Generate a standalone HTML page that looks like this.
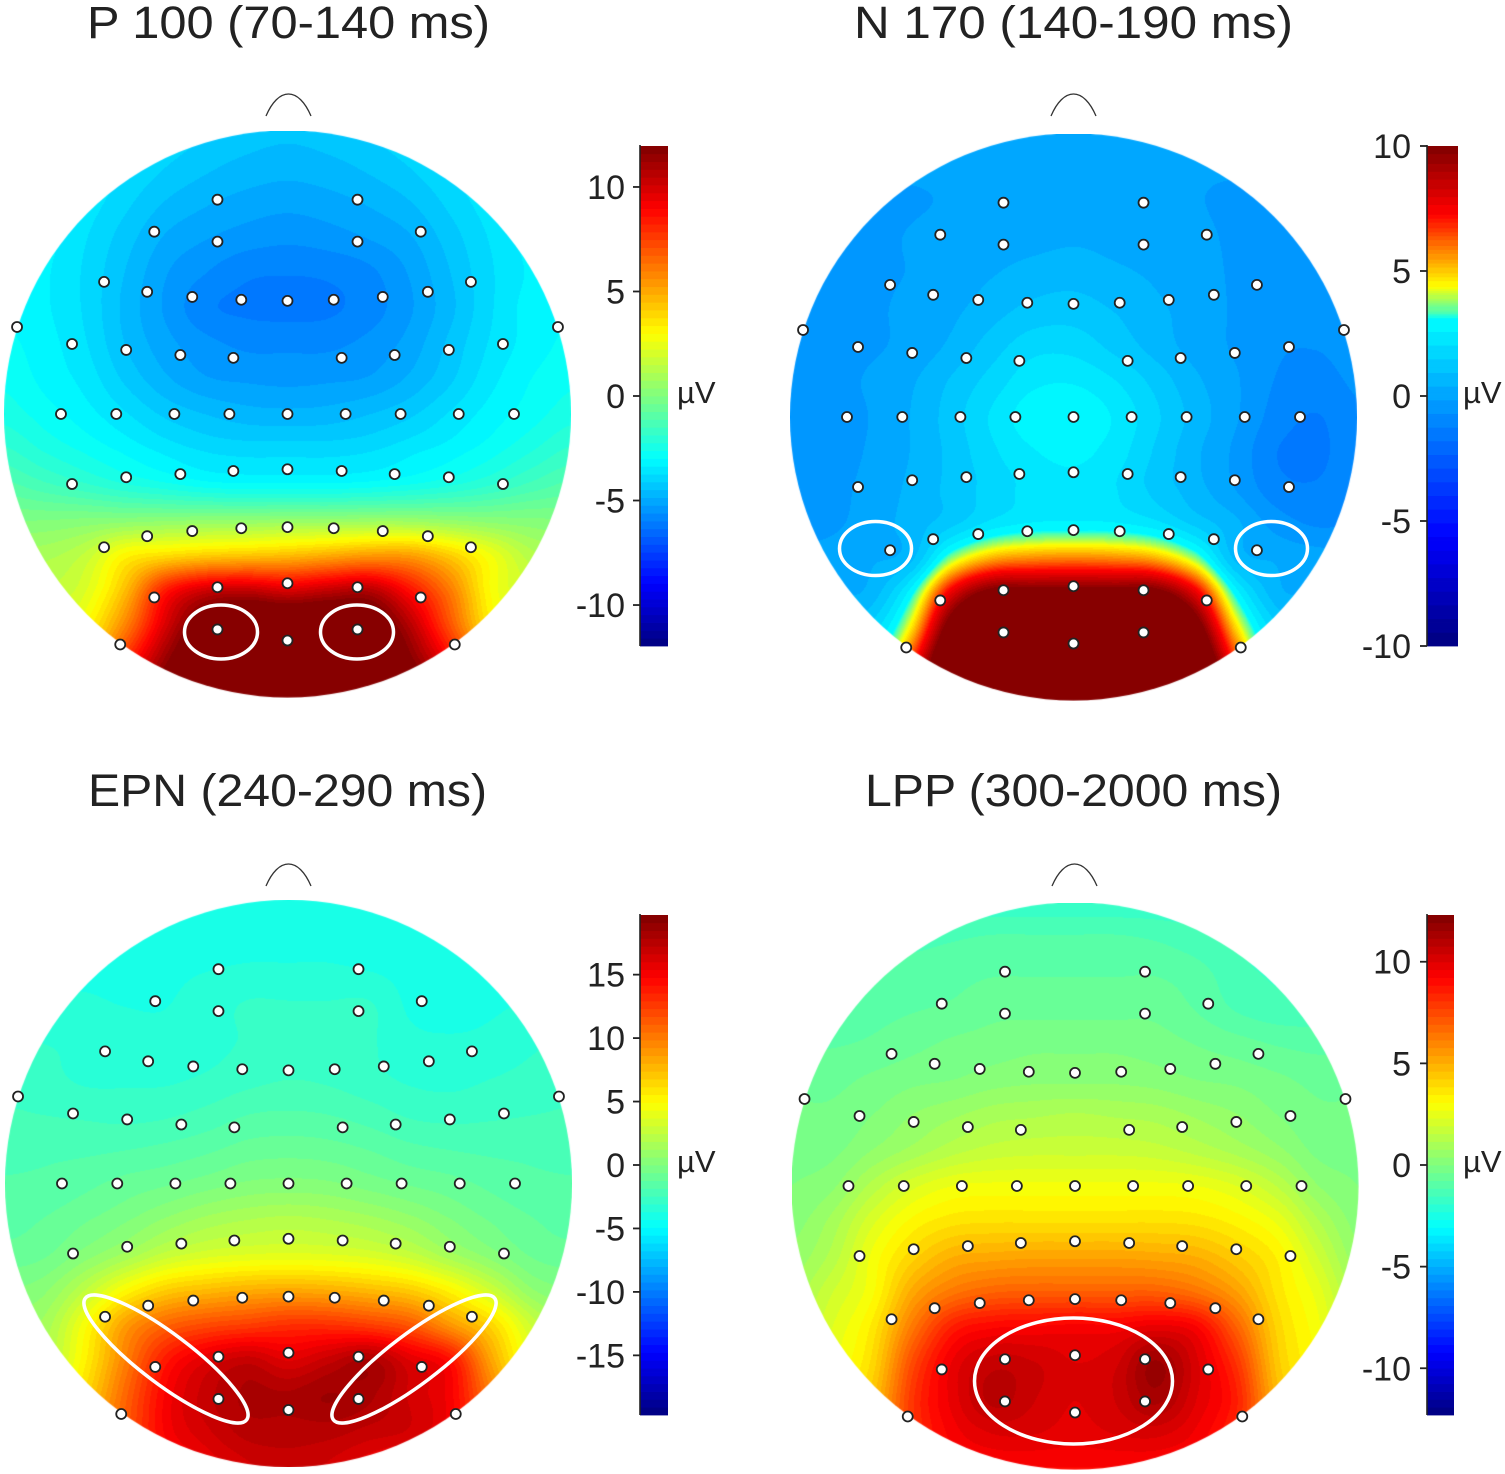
<!DOCTYPE html>
<html lang="en">
<head>
<meta charset="utf-8">
<title>ERP topographies</title>
<style>
html,body{margin:0;padding:0;background:#fff;}
#figure{position:relative;width:1505px;height:1474px;overflow:hidden;background:#fff;font-family:"Liberation Sans",Arial,sans-serif;}
canvas{position:absolute;display:block;}
#overlay{position:absolute;left:0;top:0;}
.title{font-size:45px;fill:#222;text-anchor:middle;}
.nose{fill:none;stroke:#333;stroke-width:1.3;}
.roi{fill:none;stroke:#fff;stroke-width:3.5;}
</style>
</head>
<body>
<div id="figure">
<canvas id="map0" width="567" height="567" style="left:4px;top:131px"></canvas>
<canvas id="map1" width="567" height="567" style="left:790px;top:134px"></canvas>
<canvas id="map2" width="567" height="567" style="left:5px;top:900px"></canvas>
<canvas id="map3" width="567" height="567" style="left:792px;top:903px"></canvas>
<svg id="overlay" width="1505" height="1474" viewBox="0 0 1505 1474" xmlns="http://www.w3.org/2000/svg">
  <text class="title" x="288.5" y="38" textLength="403" lengthAdjust="spacingAndGlyphs">P 100 (70-140 ms)</text>
  <text class="title" x="1073.5" y="38" textLength="439" lengthAdjust="spacingAndGlyphs">N 170 (140-190 ms)</text>
  <text class="title" x="287.5" y="806" textLength="399" lengthAdjust="spacingAndGlyphs">EPN (240-290 ms)</text>
  <text class="title" x="1073.5" y="806" textLength="417" lengthAdjust="spacingAndGlyphs">LPP (300-2000 ms)</text>

  <path class="nose" d="M266,116 C272,102 280,94 288.5,94 C297,94 305,102 311,116"/>
  <path class="nose" d="M1051,116 C1057,102 1065,94 1073.5,94 C1082,94 1090,102 1096,116"/>
  <path class="nose" d="M266,886 C272,872 280,864 288.5,864 C297,864 305,872 311,886"/>
  <path class="nose" d="M1052,886 C1058,872 1066,864 1074.5,864 C1083,864 1091,872 1097,886"/>

  <g id="electrodes"></g>
  <g id="colorbars"></g>

  <ellipse class="roi" cx="221" cy="632" rx="36.5" ry="27"/>
  <ellipse class="roi" cx="357" cy="632" rx="36.5" ry="27"/>
  <ellipse class="roi" cx="875.5" cy="548.5" rx="36" ry="27"/>
  <ellipse class="roi" cx="1271.5" cy="548.5" rx="36" ry="27"/>
  <ellipse class="roi" cx="166" cy="1359" rx="101" ry="25" transform="rotate(37 166 1359)"/>
  <ellipse class="roi" cx="414" cy="1359" rx="101" ry="25" transform="rotate(-37 414 1359)"/>
  <ellipse class="roi" cx="1073.5" cy="1381" rx="99" ry="63"/>
</svg>
</div>
<script>
/* Scalp potentials in microvolts: rows run nose to occiput, columns left to right. */
const p100Values = [
[-3,-3,-3.2,-3.5,-3.8,-4.1,-4.3,-4.4,-4.3,-4.1,-3.8,-3.5,-3.2,-3,-3],
[-3,-3,-3.3,-3.7,-4.1,-4.4,-4.6,-4.7,-4.6,-4.4,-4.1,-3.7,-3.3,-3,-3],
[-3,-3.1,-3.5,-4,-4.5,-4.8,-5,-5.1,-5,-4.8,-4.5,-4,-3.5,-3.1,-3],
[-3,-3.2,-3.7,-4.3,-4.9,-5.2,-5.4,-5.5,-5.4,-5.2,-4.9,-4.3,-3.7,-3.2,-3],
[-3,-3.3,-3.8,-4.5,-5.2,-5.6,-5.9,-5.95,-5.9,-5.7,-5.2,-4.5,-3.8,-3.3,-3],
[-3,-3.3,-3.8,-4.6,-5.3,-5.9,-6.05,-6.1,-6.05,-5.8,-5.3,-4.6,-3.8,-3.2,-3],
[-2.9,-3.2,-3.7,-4.5,-5.1,-5.5,-5.7,-5.7,-5.7,-5.5,-5.1,-4.4,-3.7,-3.2,-2.9],
[-2.7,-3.1,-3.5,-4.2,-4.8,-5.2,-5.3,-5.35,-5.3,-5.2,-4.8,-4.2,-3.5,-3,-2.7],
[-2.4,-2.8,-3.2,-3.7,-4.2,-4.5,-4.7,-4.75,-4.7,-4.5,-4.2,-3.7,-3.2,-2.8,-2.4],
[-1.8,-2.3,-2.7,-3.1,-3.5,-3.8,-3.9,-3.9,-3.9,-3.8,-3.5,-3.2,-2.8,-2.3,-1.8],
[-1,-1.4,-1.8,-2.2,-2.5,-2.8,-2.9,-2.9,-2.9,-2.8,-2.6,-2.3,-1.9,-1.4,-1],
[0,0,0.1,0.2,0.3,0.4,0.4,0.5,0.5,0.6,0.6,0.4,0.2,0.1,0],
[1,1,1.6,3.2,3.8,4.2,4.4,4.6,5,5.4,5.3,4.2,2.7,1.3,1],
[1.5,1.5,2.2,4.6,8.5,10.2,10.5,10,10.5,10.8,8.8,6.2,3,1.8,1.5],
[2,2,3,6,10,12.8,14,14,14,13.2,10.8,7.2,3.5,2,2],
[3,3,4,8,11.5,14,15,15,15,14,12,9,5,3,3],
[4,4,5,9.5,13,15,16,16,16,15,13.5,10.5,6,4,4]
];
const n170Values = [
[-0.15,-0.15,-0.15,-0.15,-0.15,-0.15,-0.15,-0.15,-0.15,-0.15,-0.15,-0.15,-0.15,-0.15,-0.15],
[-0.15,-0.15,-0.15,-0.15,-0.15,-0.15,-0.15,-0.15,-0.15,-0.15,-0.15,-0.15,-0.15,-0.15,-0.15],
[-0.25,-0.25,-0.25,-0.2,-0.15,-0.1,-0.05,0,-0.05,-0.1,-0.15,-0.25,-0.25,-0.25,-0.25],
[-0.3,-0.3,-0.25,-0.15,-0.05,0.1,0.2,0.3,0.2,0.1,-0.05,-0.25,-0.35,-0.35,-0.3],
[-0.35,-0.35,-0.25,-0.15,0.05,0.35,0.6,0.7,0.5,0.3,0.05,-0.25,-0.45,-0.45,-0.35],
[-0.4,-0.35,-0.25,-0.05,0.25,0.7,1.1,1.2,0.9,0.5,0.15,-0.25,-0.55,-0.55,-0.45],
[-0.45,-0.35,-0.25,0,0.5,1.2,1.8,1.8,1.3,0.7,0.15,-0.25,-0.65,-0.7,-0.55],
[-0.45,-0.35,-0.1,0.3,1,1.7,2.4,2.5,2.05,1.3,0.5,-0.1,-0.75,-0.9,-0.65],
[-0.5,-0.4,-0.15,0.4,1.2,2.1,2.9,3,2.5,1.6,0.7,-0.1,-0.95,-1.3,-0.8],
[-0.5,-0.4,-0.1,0.4,1.1,1.9,2.5,2.7,2.3,1.4,0.5,-0.3,-1.25,-1.4,-0.9],
[-0.5,-0.35,0,0.5,1.1,1.7,2.2,2.4,2.05,1.3,0.6,-0.2,-1.05,-1.2,-0.8],
[-0.5,-0.3,0.1,0.6,1.3,2.2,2.6,2.65,2.6,2.2,1.3,0.5,-0.4,-0.8,-0.7],
[0,0.1,0.3,0.8,3.8,5.4,5.8,5.9,5.8,5.4,3.8,0.8,0.3,0.1,0],
[0.3,0.4,0.6,3,8,10.5,10.5,10.5,10.5,10.5,8,3,0.6,0.4,0.3],
[0.8,1,1.6,4.8,11,14,14,14,14,14,11,5,1.6,1,0.8],
[1,1.5,2,7,13,15,15,15,15,15,13,7,2,1.5,1],
[1.5,2,3,9,14,15,15,15,15,15,14,9,3,2,1.5]
];
const epnValues = [
[-4,-4,-4,-4,-4,-4,-4,-4,-4,-4,-4,-4,-4,-4,-4],
[-4,-4,-4,-4,-4,-4,-3.9,-3.9,-3.9,-4,-4,-4,-4,-4,-4],
[-3.9,-3.9,-3.8,-3.8,-3.8,-3.7,-3.6,-3.6,-3.6,-3.7,-3.9,-4,-4,-3.9,-3.9],
[-3.5,-3.5,-3.6,-3.7,-3.7,-3.4,-3,-3,-3,-3,-3.8,-4,-3.8,-3.6,-3.5],
[-3,-3.1,-3.2,-3.4,-3.5,-3.3,-3,-2.8,-2.8,-3,-3.5,-3.6,-3.5,-3.2,-3],
[-2.7,-2.9,-3.2,-3.2,-3.2,-3,-2.7,-2.5,-2.6,-2.9,-3.2,-3.3,-3.1,-2.9,-2.7],
[-2.4,-2.5,-2.6,-2.7,-2.6,-2.3,-1.9,-1.8,-1.9,-2.2,-2.6,-2.7,-2.6,-2.5,-2.4],
[-2,-2,-2,-1.9,-1.7,-1.4,-1,-0.9,-1,-1.3,-1.7,-1.9,-2,-2,-2],
[-1.8,-1.7,-1.4,-1,-0.7,-0.3,0.1,0.2,0.1,-0.3,-0.7,-1,-1.4,-1.7,-1.8],
[-1.5,-1.2,-0.7,-0.1,0.7,1.4,1.8,2,1.8,1.4,0.8,0,-0.7,-1.2,-1.5],
[-1,-0.7,0.3,1.4,2.7,3.4,3.7,3.8,3.7,3.4,2.7,1.4,0.3,-0.7,-1],
[0,0.5,2.5,5,6.8,7.5,8,8.2,8,7.5,6.8,5.2,3,0.7,0],
[1,1.5,4.8,8.8,11,12,12.5,13,13,12.5,11.5,9,6.5,3,1],
[1.5,2,5.5,10,14,16,17,16,17,18,16,14.3,8.5,4,2],
[2,3,6.5,11,15,17,18,18,18.5,18,16.5,15,10,5,3],
[3,4,8,11.5,15,16.5,17.5,17.5,17.5,17,16.5,15,11,7,4],
[4,5,9,12,14,15.5,16.5,17,16.5,15.5,14.5,14,11.5,9,5]
];
const lppValues = [
[-1.8,-1.8,-1.8,-1.8,-1.8,-1.8,-1.8,-1.8,-1.8,-1.8,-1.8,-1.8,-1.8,-1.8,-1.8],
[-1.3,-1.3,-1.3,-1.3,-1.2,-1.1,-1.1,-1.1,-1.1,-1.2,-1.4,-1.6,-1.8,-1.8,-1.8],
[-1.1,-1.1,-1.1,-1,-0.9,-0.8,-0.8,-0.8,-0.8,-0.8,-1,-1.4,-1.6,-1.6,-1.6],
[-1,-1,-0.9,-0.8,-0.7,-0.5,-0.5,-0.5,-0.5,-0.5,-0.8,-1.2,-1.4,-1.4,-1.4],
[-0.8,-0.8,-0.7,-0.5,-0.3,-0.2,-0.1,-0.1,-0.1,-0.2,-0.4,-0.6,-0.8,-0.9,-0.9],
[-0.5,-0.5,-0.3,-0.1,0,0.2,0.3,0.3,0.3,0.2,0,-0.1,-0.3,-0.5,-0.5],
[-0.3,-0.3,0,0.4,0.7,1,1.1,1.2,1.1,1,0.7,0.4,0,-0.3,-0.3],
[-0.1,-0.1,0.4,0.9,1.4,1.7,1.8,1.8,1.8,1.7,1.4,1,0.5,-0.1,-0.1],
[0,0.3,1.3,2.2,2.7,2.8,2.8,2.8,2.8,2.8,2.7,2.3,1.5,0.4,0],
[0.2,0.9,2.2,3.2,3.7,3.8,3.8,3.8,3.8,3.8,3.7,3.3,2.6,1.2,0.2],
[0.5,1.3,2.8,4.1,5,5.2,5.3,5.3,5.3,5.2,5,4.3,3.4,1.9,0.5],
[0.9,1.9,3,5.2,6.4,6.9,7,7,7,7,6.5,5.4,3.7,2.5,0.9],
[1.3,2.3,3.6,6.4,8.6,9.2,9.3,9.4,9.4,9.8,9.3,6.9,4.1,2.8,1.3],
[1.6,2.6,4,7.5,9.7,10.6,10.4,10,10.3,11.6,10.1,8,4.4,3,1.6],
[2,3,4.5,8,9.8,10.9,10.4,10,10.4,11.3,10,8.5,4.8,3.2,2],
[2.5,3.5,5,8,9.4,10,10,9.8,10,10.1,9.5,8.2,5.2,3.5,2.5],
[3,4,6,8.5,9,9.2,9.2,9.2,9.2,9.2,9,8.5,6,4,3]
];

/* Electrode coordinates in head radii: lateral (+ right) and anterior-posterior (+ back). */
const electrodeLat = [
-0.247,0.247,-0.47,0.47,-0.247,0.247,-0.647,0.647,-0.495,0.495,-0.336,0.336,-0.163,0.163,0,
-0.954,0.954,-0.76,0.76,-0.569,0.569,-0.378,0.378,-0.191,0.191,
-0.799,-0.604,-0.399,-0.205,0,0.205,0.399,0.604,0.799,
0,-0.191,0.191,-0.378,0.378,-0.569,0.569,-0.76,0.76,
0,-0.163,0.163,-0.336,0.336,-0.495,0.495,-0.647,0.647,
0,-0.247,0.247,-0.47,0.47,-0.247,0.247,0,-0.59,0.59
];
const electrodeAnt = [
-0.756,-0.756,-0.643,-0.643,-0.608,-0.608,-0.466,-0.466,-0.431,-0.431,-0.413,-0.413,-0.403,-0.403,-0.399,
-0.307,-0.307,-0.247,-0.247,-0.226,-0.226,-0.208,-0.208,-0.198,-0.198,
0,0,0,0,0,0,0,0,0,
0.195,0.201,0.201,0.212,0.212,0.223,0.223,0.247,0.247,
0.399,0.403,0.403,0.413,0.413,0.431,0.431,0.47,0.47,
0.597,0.611,0.611,0.647,0.647,0.76,0.76,0.799,0.813,0.813
];

/* Colorbar ticks and limits. */
const p100Ticks = [10,5,0,-5,-10];
const n170Ticks = [10,5,0,-5,-10];
const epnTicks = [15,10,5,0,-5,-10,-15];
const lppTicks = [10,5,0,-5,-10];
const p100Limits = [-11.96,11.96];
const n170Limits = [-10,10];
const epnLimits = [-19.7,19.7];
const lppLimits = [-12.3,12.3];
/* Colormap breakpoints: microvolts and matching jet fraction. */
const p100ColorValues = [-11.96,11.96];
const p100ColorFractions = [0,1];
const n170ColorValues = [-10,3.1,3.35,4.4,7.3,10];
const n170ColorFractions = [0,0.375,0.45,0.625,0.875,1];
const epnColorValues = [-19.7,19.7];
const epnColorFractions = [0,1];
const lppColorValues = [-12.3,12.3];
const lppColorFractions = [0,1];

const panels = [
  {key:'p100',grid:p100Values,ticks:p100Ticks,limits:p100Limits,cv:p100ColorValues,cf:p100ColorFractions,cx:287.5,cy:414,barX:640,barW:28,barTop:146,labelRight:625,unitX:677,canvas:'map0',canvasX:4,canvasY:131},
  {key:'n170',grid:n170Values,ticks:n170Ticks,limits:n170Limits,cv:n170ColorValues,cf:n170ColorFractions,cx:1073.5,cy:417,barX:1427,barW:31,barTop:146,labelRight:1411,unitX:1463,canvas:'map1',canvasX:790,canvasY:134},
  {key:'epn',grid:epnValues,ticks:epnTicks,limits:epnLimits,cv:epnColorValues,cf:epnColorFractions,cx:288.5,cy:1183.5,barX:640,barW:28,barTop:915,labelRight:625,unitX:677,canvas:'map2',canvasX:5,canvasY:900},
  {key:'lpp',grid:lppValues,ticks:lppTicks,limits:lppLimits,cv:lppColorValues,cf:lppColorFractions,cx:1075,cy:1186,barX:1427,barW:27,barTop:915,labelRight:1411,unitX:1463,canvas:'map3',canvasX:792,canvasY:903}
];
const HEAD_RADIUS = 283.5;
const BAR_HEIGHT = 500;
const LEVELS = 64;
const SVGNS = 'http://www.w3.org/2000/svg';

function clamp01(v){return v<0?0:v>1?1:v;}
function jet(t){
  return [
    Math.round(255*clamp01(Math.min(4*t-1.5,-4*t+4.5))),
    Math.round(255*clamp01(Math.min(4*t-0.5,-4*t+3.5))),
    Math.round(255*clamp01(Math.min(4*t+0.5,-4*t+2.5)))
  ];
}
function fractionOf(v,xs,ys){
  if(v<=xs[0])return ys[0];
  for(let i=1;i<xs.length;i++){
    if(v<=xs[i])return ys[i-1]+(ys[i]-ys[i-1])*(v-xs[i-1])/(xs[i]-xs[i-1]);
  }
  return ys[ys.length-1];
}
function levelColor(t){
  let l=Math.floor(t*LEVELS);
  if(l>=LEVELS)l=LEVELS-1;
  if(l<0)l=0;
  return jet((l+0.5)/LEVELS);
}
function catmull(a,b,c,d,u){
  return 0.5*(2*b+(c-a)*u+(2*a-5*b+4*c-d)*u*u+(3*b-a-3*c+d)*u*u*u);
}
function sampleGrid(grid,gx,gy){
  const rows=grid.length,cols=grid[0].length;
  const ix=Math.floor(gx),iy=Math.floor(gy),ux=gx-ix,uy=gy-iy;
  const col=i=>Math.max(0,Math.min(cols-1,i));
  const row=i=>Math.max(0,Math.min(rows-1,i));
  const vals=[];
  for(let j=-1;j<=2;j++){
    const r=grid[row(iy+j)];
    vals.push(catmull(r[col(ix-1)],r[col(ix)],r[col(ix+1)],r[col(ix+2)],ux));
  }
  return catmull(vals[0],vals[1],vals[2],vals[3],uy);
}
function drawMap(p){
  const canvas=document.getElementById(p.canvas);
  const w=canvas.width,h=canvas.height;
  const off=document.createElement('canvas');
  off.width=w;off.height=h;
  const octx=off.getContext('2d');
  const img=octx.createImageData(w,h);
  const rows=p.grid.length,cols=p.grid[0].length;
  for(let y=0;y<h;y++){
    for(let x=0;x<w;x++){
      const nx=(x+0.5+p.canvasX-p.cx)/HEAD_RADIUS;
      const ny=(y+0.5+p.canvasY-p.cy)/HEAD_RADIUS;
      const v=sampleGrid(p.grid,(nx+1)/2*(cols-1),(ny+1)/2*(rows-1));
      const c=levelColor(fractionOf(v,p.cv,p.cf));
      const k=(y*w+x)*4;
      img.data[k]=c[0];img.data[k+1]=c[1];img.data[k+2]=c[2];img.data[k+3]=255;
    }
  }
  octx.putImageData(img,0,0);
  const ctx=canvas.getContext('2d');
  ctx.save();
  ctx.beginPath();
  ctx.arc(p.cx-p.canvasX,p.cy-p.canvasY,HEAD_RADIUS,0,Math.PI*2);
  ctx.clip();
  ctx.drawImage(off,0,0);
  ctx.restore();
}
function drawElectrodes(p){
  const layer=document.getElementById('electrodes');
  const group=document.createElementNS(SVGNS,'g');
  
  
  for(let i=0;i<electrodeLat.length;i++){
    const dot=document.createElementNS(SVGNS,'circle');
    
    
    dot.setAttribute('cx',p.cx+electrodeLat[i]*HEAD_RADIUS);
    dot.setAttribute('cy',p.cy+electrodeAnt[i]*HEAD_RADIUS);
    dot.setAttribute('r',5);
    dot.setAttribute('fill','#fff');
    dot.setAttribute('stroke','#222');
    dot.setAttribute('stroke-width',1.8);
    group.appendChild(dot);
  }
  layer.appendChild(group);
}
function drawColorbar(p){
  const layer=document.getElementById('colorbars');
  const group=document.createElementNS(SVGNS,'g');
  
  
  const lo=p.limits[0],hi=p.limits[1];
  const yOf=v=>p.barTop+(hi-v)/(hi-lo)*BAR_HEIGHT;
  const steps=LEVELS*4;
  for(let i=0;i<steps;i++){
    const v0=lo+(hi-lo)*i/steps;
    const v1=lo+(hi-lo)*(i+1)/steps;
    const c=levelColor(fractionOf((v0+v1)/2,p.cv,p.cf));
    const cell=document.createElementNS(SVGNS,'rect');
    
    
    cell.setAttribute('x',p.barX);
    cell.setAttribute('y',yOf(v1));
    cell.setAttribute('width',p.barW);
    cell.setAttribute('height',yOf(v0)-yOf(v1)+0.4);
    cell.setAttribute('fill','rgb('+c.join(',')+')');
    group.appendChild(cell);
  }
  const axis=document.createElementNS(SVGNS,'line');
  
  
  axis.setAttribute('x1',p.barX);
  axis.setAttribute('x2',p.barX);
  axis.setAttribute('y1',p.barTop-1);
  axis.setAttribute('y2',p.barTop+BAR_HEIGHT);
  axis.setAttribute('stroke','#222');
  axis.setAttribute('stroke-width',1.6);
  group.appendChild(axis);
  p.ticks.forEach(function(t){
    const y=yOf(t);
    const mark=document.createElementNS(SVGNS,'line');
    
    
    mark.setAttribute('x1',p.barX-7);
    mark.setAttribute('x2',p.barX);
    mark.setAttribute('y1',y);
    mark.setAttribute('y2',y);
    mark.setAttribute('stroke','#222');
    mark.setAttribute('stroke-width',1.8);
    group.appendChild(mark);
    const label=document.createElementNS(SVGNS,'text');
    
    
    label.setAttribute('x',p.labelRight);
    label.setAttribute('y',y+12);
    label.setAttribute('text-anchor','end');
    label.setAttribute('font-size','34');
    label.setAttribute('fill','#222');
    label.textContent=String(t);
    group.appendChild(label);
  });
  const unit=document.createElementNS(SVGNS,'text');
  
  
  unit.setAttribute('x',p.unitX);
  unit.setAttribute('y',p.barTop+BAR_HEIGHT/2+7);
  unit.setAttribute('font-size','31');
  unit.setAttribute('fill','#222');
  unit.textContent='\u00B5V';
  group.appendChild(unit);
  layer.appendChild(group);
}
panels.forEach(function(p){
  drawMap(p);
  drawElectrodes(p);
  drawColorbar(p);
});
</script>
</body>
</html>
